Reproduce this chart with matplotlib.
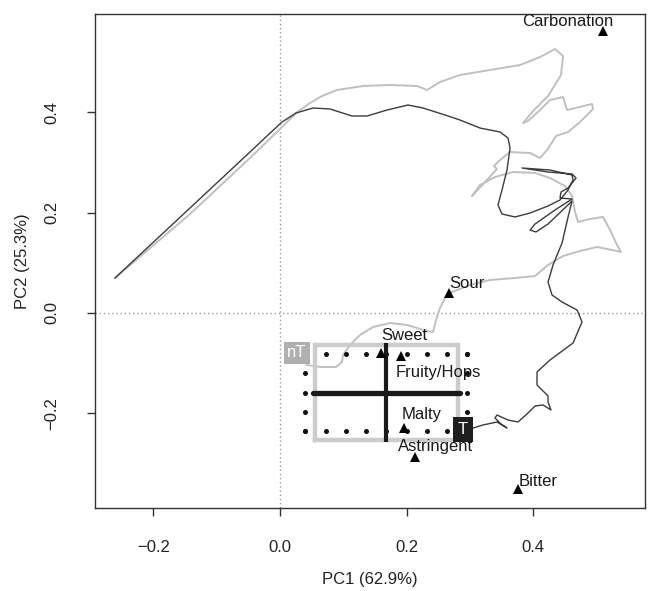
import matplotlib
matplotlib.use('Agg')
import matplotlib.pyplot as plt
import numpy as np

plt.rcParams['font.family'] = ['Liberation Sans', 'DejaVu Sans']

# attribute loadings (triangles) and where their labels sit
attributes = ['Carbonation', 'Sour', 'Sweet', 'Fruity/Hops', 'Malty', 'Astringent', 'Bitter']
attr_x = [0.510, 0.267, 0.160, 0.191, 0.196, 0.213, 0.376]
attr_y = [0.562, 0.040, -0.080, -0.086, -0.229, -0.287, -0.351]
label_x = [0.455, 0.295, 0.197, 0.250, 0.224, 0.245, 0.408]
label_y = [0.582, 0.058, -0.044, -0.118, -0.203, -0.267, -0.335]

# trajectory of the T product (dark line)
t_x = [-0.2605, -0.1421, -0.0474, -0.0189, 0.0032, 0.0253, 0.0521, 0.0790, 0.1137, 0.1374,
       0.1690, 0.2021, 0.2258, 0.2605, 0.2842, 0.3158, 0.3474, 0.3600, 0.3632, 0.3584,
       0.3505, 0.3442, 0.3505, 0.3711, 0.3948, 0.4232, 0.4421, 0.4548, 0.4627, 0.4611,
       0.4263, 0.3821, 0.4232, 0.4611, 0.4674, 0.4548, 0.4437, 0.4421, 0.4611, 0.4342,
       0.4027, 0.3948, 0.4042, 0.4232, 0.4611, 0.4548, 0.4453, 0.4311, 0.4232, 0.4295,
       0.4453, 0.4690, 0.4769, 0.4627, 0.4263, 0.4058, 0.4058, 0.4232, 0.4232, 0.4279,
       0.4153, 0.4027, 0.3916, 0.3758, 0.3600, 0.3426, 0.3395, 0.3490, 0.3584, 0.3426,
       0.3205, 0.3000, 0.2890]
t_y = [0.0698, 0.2093, 0.3209, 0.3548, 0.3807, 0.3986, 0.4086, 0.4066, 0.3927, 0.3927,
       0.4046, 0.4146, 0.4086, 0.3947, 0.3847, 0.3687, 0.3608, 0.3488, 0.3289, 0.2850,
       0.2452, 0.2153, 0.1973, 0.1914, 0.1993, 0.2133, 0.2252, 0.2452, 0.2651, 0.2751,
       0.2850, 0.2890, 0.2810, 0.2771, 0.2691, 0.2492, 0.2412, 0.2292, 0.2272, 0.2053,
       0.1774, 0.1654, 0.1615, 0.1774, 0.2232, 0.1913, 0.1395, 0.0957, 0.0618, 0.0359,
       0.0219, 0.0060, -0.0179, -0.0598, -0.0937, -0.1176, -0.1435, -0.1654, -0.1774, -0.1933,
       -0.1834, -0.1854, -0.1993, -0.2173, -0.2133, -0.2033, -0.2093, -0.2213, -0.2292, -0.2173,
       -0.2232, -0.2312, -0.2332]

# trajectory of the nT product (light line)
nt_x = [-0.2605, -0.1421, -0.0474, 0.0000, 0.0253, 0.0474, 0.0663, 0.0900, 0.1311, 0.1737,
        0.2163, 0.2321, 0.2526, 0.2842, 0.3316, 0.3790, 0.4106, 0.4342, 0.4469, 0.4437,
        0.4232, 0.4011, 0.3837, 0.3916, 0.4106, 0.4263, 0.4469, 0.4532, 0.4927, 0.4942,
        0.4737, 0.4548, 0.4358, 0.4216, 0.4106, 0.3948, 0.3632, 0.3474, 0.3379, 0.3426,
        0.3237, 0.3032, 0.3158, 0.3395, 0.3679, 0.4027, 0.4263, 0.4500, 0.4611, 0.4658,
        0.4706, 0.4895, 0.5100, 0.5211, 0.5306, 0.5385, 0.5243, 0.5005, 0.4737, 0.4469,
        0.4232, 0.4027, 0.3711, 0.3316, 0.3000, 0.2716, 0.2605, 0.2526, 0.2463, 0.2416,
        0.2321, 0.2005, 0.1737, 0.1469, 0.1263, 0.1105, 0.0995, 0.0979, 0.0884, 0.0632,
        0.0426, 0.0316, 0.0268]
nt_y = [0.0698, 0.1973, 0.3090, 0.3668, 0.3986, 0.4186, 0.4325, 0.4445, 0.4525, 0.4545,
        0.4525, 0.4445, 0.4604, 0.4744, 0.4844, 0.4943, 0.5103, 0.5262, 0.5123, 0.4744,
        0.4325, 0.4046, 0.3787, 0.3827, 0.4046, 0.4246, 0.4305, 0.4046, 0.4166, 0.4066,
        0.3807, 0.3608, 0.3528, 0.3249, 0.3090, 0.3189, 0.3209, 0.3050, 0.2930, 0.2870,
        0.2611, 0.2332, 0.2552, 0.2711, 0.2810, 0.2791, 0.2691, 0.2531, 0.2332, 0.2013,
        0.1814, 0.1874, 0.1914, 0.1654, 0.1395, 0.1216, 0.1256, 0.1316, 0.1236, 0.1136,
        0.0957, 0.0737, 0.0698, 0.0658, 0.0558, 0.0419, 0.0299, 0.0100, -0.0140, -0.0379,
        -0.0359, -0.0239, -0.0199, -0.0279, -0.0439, -0.0638, -0.0837, -0.0977, -0.1076, -0.1076,
        -0.1036, -0.0897, -0.0797]

# centre of the cloud, with the three spreads drawn around it
center = (0.168, -0.1585)
cross_half = (0.116, 0.0985)
box_half = (0.113, 0.0945)
dots_half = (0.128, 0.0767)

xticks = [-0.2, 0.0, 0.2, 0.4]
yticks = [-0.2, 0.0, 0.2, 0.4]

fig = plt.figure(figsize=(6.51, 5.91), dpi=100)
ax = fig.add_axes([95 / 651, 1 - 508 / 591, 550 / 651, 494 / 591])
ax.set_xlim(-0.2921, 0.5763)
ax.set_ylim(-0.3887, 0.596)

ax.axvline(0, color='#9a9a9a', ls=(0, (1, 2)), lw=1, zorder=1)
ax.axhline(0, color='#9a9a9a', ls=(0, (1, 2)), lw=1, zorder=1)

ax.plot(nt_x, nt_y, color='#c0c0c0', lw=1.4, solid_joinstyle='round', zorder=2)
ax.plot(t_x, t_y, color='#3c3c3c', lw=1.0, solid_joinstyle='round', zorder=3)

cx, cy = center
bx, by = box_half
ax.plot([cx - bx, cx + bx, cx + bx, cx - bx, cx - bx],
        [cy - by, cy - by, cy + by, cy + by, cy - by],
        color='#cccccc', lw=3.2, solid_joinstyle='miter', zorder=4)

# dotted frame, corners included
dx, dy = dots_half
top_x = np.linspace(cx - dx, cx + dx, 9)
side_y = np.linspace(cy - dy, cy + dy, 5)
pts_x = np.concatenate([top_x, top_x, np.full(5, cx - dx), np.full(5, cx + dx)])
pts_y = np.concatenate([np.full(9, cy + dy), np.full(9, cy - dy), side_y, side_y])

for name, lx, ly in zip(attributes, label_x, label_y):
    ax.text(lx, ly, name, ha='center', va='center', fontsize=12, color='#1a1a1a', zorder=5)

ax.plot(pts_x, pts_y, 'o', color='#111111', ms=3.6, mew=0, zorder=6)

hx, hy = cross_half
ax.plot([cx - hx, cx + hx], [cy, cy], color='#1a1a1a', lw=3.8, solid_capstyle='round', zorder=6)
ax.plot([cx, cx], [cy - hy, cy + hy], color='#1a1a1a', lw=3.0, solid_capstyle='butt', zorder=6)

ax.plot(attr_x, attr_y, '^', color='black', ms=7, mew=0, zorder=7)

ax.text(nt_x[-1], nt_y[-1], 'nT', ha='center', va='center', fontsize=12, color='white', zorder=8,
        bbox=dict(boxstyle='square,pad=0.22', fc='#b0b0b0', ec='none'))
ax.text(t_x[-1], t_y[-1], 'T', ha='center', va='center', fontsize=12, color='white', zorder=8,
        bbox=dict(boxstyle='square,pad=0.3', fc='#1e1e1e', ec='none'))

ax.set_xticks(xticks)
ax.set_xticklabels([f'{v:.1f}'.replace('-', '\u2212') for v in xticks])
ax.set_yticks(yticks)
ax.set_yticklabels([f'{v:.1f}'.replace('-', '\u2212') for v in yticks], rotation=90, va='center')
ax.tick_params(direction='out', length=6, width=1, color='#333333', labelsize=12,
               labelcolor='#222222')
ax.tick_params(axis='x', pad=17)
ax.tick_params(axis='y', pad=20)
for s in ax.spines.values():
    s.set_color('#333333')
    s.set_linewidth(1)

ax.set_xlabel('PC1 (62.9%)', fontsize=12, color='#222222', labelpad=12)
ax.set_ylabel('PC2 (25.3%)', fontsize=12, color='#222222', labelpad=10)

fig.savefig('out.png', dpi=100)
